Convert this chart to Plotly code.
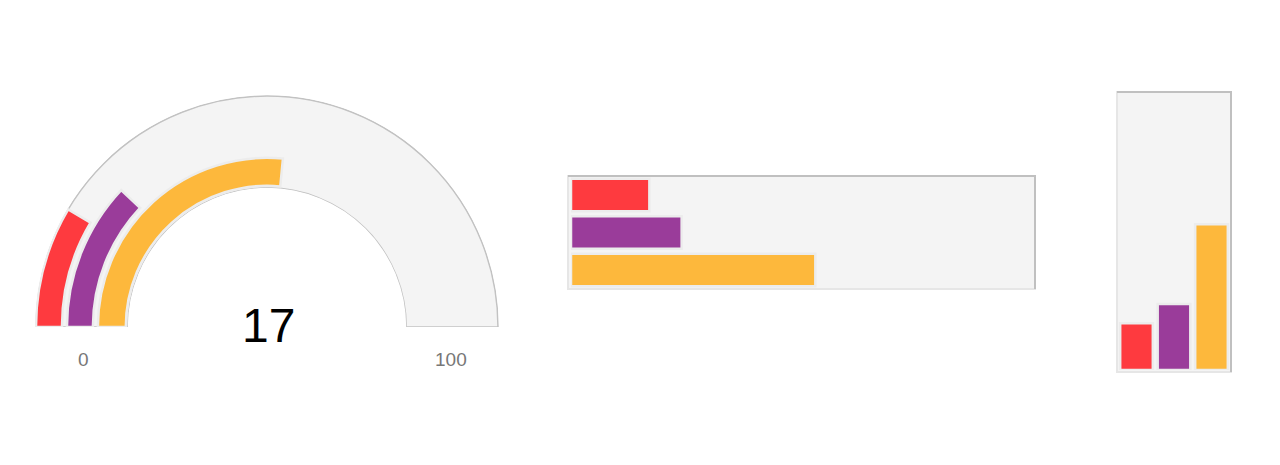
import plotly.graph_objects as go

# values shown by the three gauges
names = ["A", "B", "C"]
values = [17, 24, 53]
colors = ["#FE3A3F", "#9A3C9A", "#FDB83C"]
gauge_value = 17
gauge_min = 0
gauge_max = 100

# page body adds an 8px margin, so the figure is placed at (8, 8)
OFF = 8
W, H = 1280 - OFF, 465 - OFF
px = lambda x: (x - OFF) / W
py = lambda y: (H - (y - OFF)) / H

bar_line = dict(color="#ececec", width=2.5)
track_fill = "#f4f4f4"

fig = go.Figure()

# ---- semicircle gauge (polar, top half) ----
deg = lambda v: (v - gauge_min) / (gauge_max - gauge_min) * 180.0
fig.add_trace(go.Barpolar(
    r=[92], base=[0], theta=[deg(gauge_max) / 2], width=[deg(gauge_max)],
    marker=dict(color=track_fill, line=dict(color="#c2c2c2", width=1.5)),
    hoverinfo="skip", showlegend=False))
# inner band -> outer band : C, B, A
bands = {"C": (2, 28), "B": (35, 26), "A": (66, 26)}
for n, v, c in zip(names, values, colors):
    b, t = bands[n]
    fig.add_trace(go.Barpolar(
        r=[t], base=[b], theta=[deg(v) / 2], width=[deg(v)],
        marker=dict(color=c, line=bar_line),
        name=n, showlegend=False))

fig.update_layout(polar=dict(
    domain=dict(x=[px(35), px(499)], y=[py(327), py(95)]),
    sector=[0, 180], hole=0.6, bgcolor="rgba(0,0,0,0)",
    radialaxis=dict(range=[0, 93], visible=False),
    angularaxis=dict(rotation=180, direction="clockwise", visible=False),
))

# ---- horizontal bar gauge ----
fig.add_trace(go.Bar(
    x=values, y=names, orientation="h", xaxis="x", yaxis="y",
    marker=dict(color=colors, line=bar_line), showlegend=False))

# ---- vertical bar gauge ----
fig.add_trace(go.Bar(
    x=names, y=values, xaxis="x2", yaxis="y2",
    marker=dict(color=colors, line=bar_line), showlegend=False))

fig.update_layout(
    xaxis=dict(domain=[px(571), px(1032)], range=[gauge_min, gauge_max],
               visible=False, fixedrange=True),
    yaxis=dict(domain=[py(288.75), py(176.25)], autorange="reversed",
               visible=False, fixedrange=True),
    xaxis2=dict(domain=[px(1117.75), px(1230.25)], anchor="y2",
                visible=False, fixedrange=True),
    yaxis2=dict(domain=[py(370), py(95)], range=[gauge_min, gauge_max], anchor="x2",
                visible=False, fixedrange=True),
    bargap=0.13,
)

# tracks behind bar gauges
shapes = []
for (x0, y0, x1, y1) in [(568, 176, 1035, 289), (1117, 92, 1231, 372)]:
    shapes.append(dict(type="rect", xref="paper", yref="paper", layer="below",
                       x0=px(x0), x1=px(x1), y0=py(y1), y1=py(y0),
                       fillcolor=track_fill, line=dict(color="#e6e6e6", width=2)))
    # darker top/right edge
    shapes.append(dict(type="path", xref="paper", yref="paper", layer="below",
                       path=f"M {px(x0)} {py(y0)} L {px(x1)} {py(y0)} L {px(x1)} {py(y1)}",
                       line=dict(color="#c0c0c0", width=2)))

lbl = dict(xref="paper", yref="paper", showarrow=False,
           xanchor="center", yanchor="middle")
fig.update_layout(
    shapes=shapes,
    annotations=[
        dict(text=str(gauge_value), x=px(268), y=py(325),
             font=dict(size=48, color="#000000"), **lbl),
        dict(text=str(gauge_min), x=px(83), y=py(359),
             font=dict(size=19, color="#777777"), **lbl),
        dict(text=str(gauge_max), x=px(451), y=py(359),
             font=dict(size=19, color="#777777"), **lbl),
    ],
    width=W, height=H,
    margin=dict(l=0, r=0, t=0, b=0),
    paper_bgcolor="white", plot_bgcolor="rgba(0,0,0,0)",
    font=dict(family="Liberation Sans, Arial, sans-serif"),
)

fig.write_html("out.html")
